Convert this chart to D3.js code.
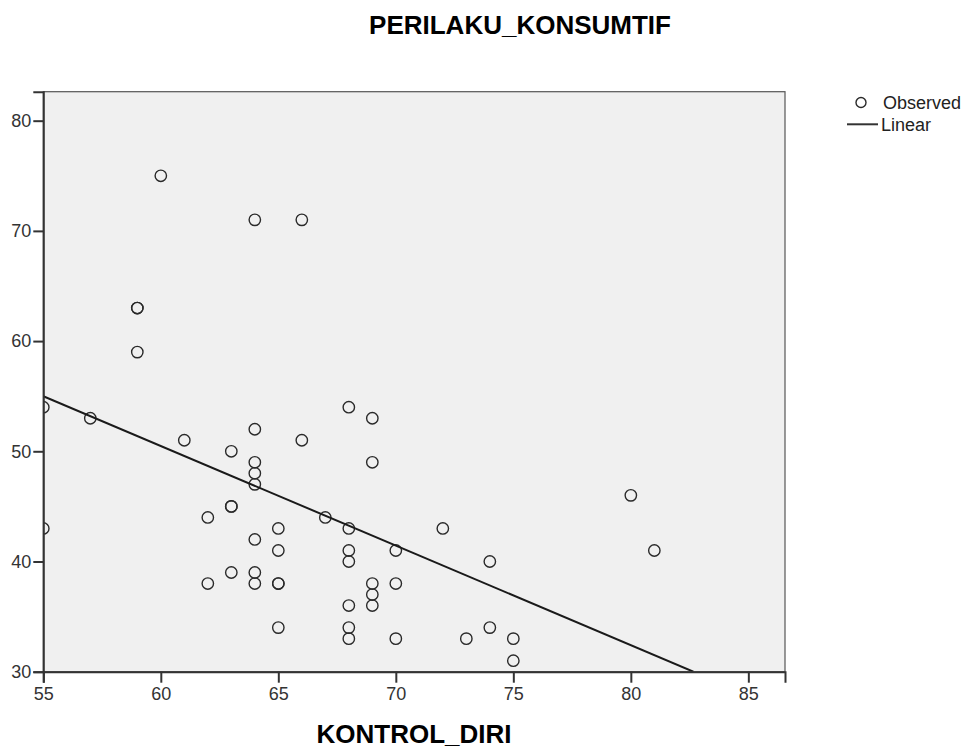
<!DOCTYPE html>
<html><head><meta charset="utf-8">
<script src="https://cdn.jsdelivr.net/npm/d3@7"></script>
<style>body{margin:0;background:#fff;}svg{display:block;}</style>
</head><body>
<svg id="c" width="968" height="749"></svg>
<script>
const kontrolDiri = [55,55,57,59,59,59,60,61,62,62,63,63,63,63,64,64,64,64,64,64,64,64,65,65,65,65,65,66,66,67,68,68,68,68,68,68,68,69,69,69,69,69,70,70,70,72,73,74,74,75,75,80,81];
const perilakuKonsumtif = [54,43,53,63,63,59,75,51,44,38,50,45,45,39,71,52,49,48,47,42,39,38,43,41,38,38,34,71,51,44,54,43,41,40,36,34,33,53,49,38,37,36,41,38,33,43,33,40,34,33,31,46,41];
const xTicks = [55,60,65,70,75,80,85];
const yTicks = [30,40,50,60,70,80];
const xDomain = [55, 86.56];
const yDomain = [30, 82.63];
const lineIntercept = 104.71;
const lineSlope = -0.9038;

const svg = d3.select("#c");
const L=43.3, R=785, T=91.7, B=671.7;
const x = d3.scaleLinear().domain(xDomain).range([L,R]);
const y = d3.scaleLinear().domain(yDomain).range([B,T]);
const font = "'Liberation Sans', Arial, sans-serif";

svg.append("defs").append("clipPath").attr("id","pc")
  .append("rect").attr("x",L).attr("y",T).attr("width",R-L).attr("height",B-T);

svg.append("rect").attr("x",L).attr("y",T).attr("width",R-L).attr("height",B-T)
  .attr("fill","#f0f0f0").attr("stroke","#555").attr("stroke-width",1.2);

const g = svg.append("g").attr("clip-path","url(#pc)");
const pts = kontrolDiri.map((d,i)=>({x:d,y:perilakuKonsumtif[i]}));
g.selectAll("circle.pt").data(pts).enter().append("circle")
  .attr("cx",d=>x(d.x)).attr("cy",d=>y(d.y)).attr("r",5.7)
  .attr("fill","none").attr("stroke","#2a2a2a").attr("stroke-width",1.4);

const lx0 = xDomain[0], lx1 = (yDomain[0]-lineIntercept)/lineSlope;
g.append("line")
  .attr("x1",x(lx0)).attr("y1",y(lineIntercept+lineSlope*lx0))
  .attr("x2",x(lx1)).attr("y2",y(lineIntercept+lineSlope*lx1))
  .attr("stroke","#1a1a1a").attr("stroke-width",2);

const xAxis = svg.append("g").attr("transform",`translate(0,${B})`)
  .call(d3.axisBottom(x).tickValues(xTicks).tickSize(11).tickPadding(5).tickFormat(d3.format("d")));
const yAxis = svg.append("g").attr("transform",`translate(${L},0)`)
  .call(d3.axisLeft(y).tickValues(yTicks).tickSize(10).tickPadding(2).tickFormat(d3.format("d")));
[xAxis,yAxis].forEach(a=>{
  a.select(".domain").attr("stroke","#333").attr("stroke-width",2);
  a.selectAll(".tick line").attr("stroke","#333").attr("stroke-width",2);
  a.selectAll(".tick text").attr("fill","#333").style("font-family",font).style("font-size","18px");
});

svg.append("text").attr("x",520).attr("y",34).attr("text-anchor","middle")
  .style("font-family",font).style("font-weight","bold").style("font-size","26px").attr("fill","#000")
  .text("PERILAKU_KONSUMTIF");
svg.append("text").attr("x",414).attr("y",743).attr("text-anchor","middle")
  .style("font-family",font).style("font-weight","bold").style("font-size","26px").attr("fill","#000")
  .text("KONTROL_DIRI");

const lg = svg.append("g");
lg.append("circle").attr("cx",861).attr("cy",102.5).attr("r",5)
  .attr("fill","none").attr("stroke","#2a2a2a").attr("stroke-width",1.4);
lg.append("text").attr("x",883).attr("y",108.5).style("font-family",font).style("font-size","18px").attr("fill","#222").text("Observed");
lg.append("line").attr("x1",847).attr("x2",878).attr("y1",124.3).attr("y2",124.3).attr("stroke","#333").attr("stroke-width",2);
lg.append("text").attr("x",881).attr("y",131).style("font-family",font).style("font-size","18px").attr("fill","#222").text("Linear");
</script>
</body></html>
